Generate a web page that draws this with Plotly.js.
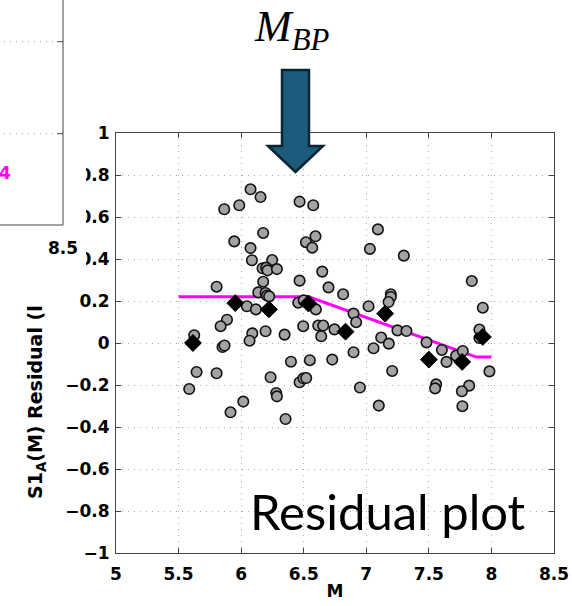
<!DOCTYPE html>
<html>
<head>
<meta charset="utf-8">
<script src="https://cdn.plot.ly/plotly-3.0.1.min.js"></script>
<style>html,body{margin:0;padding:0;background:#fff;}#chart{width:572px;height:606px;}</style>
</head>
<body>
<div id="chart"></div>
<script>
// ---- data ----
const circleM = [6.075,6.155,5.985,5.865,6.467,6.576,6.176,5.945,6.075,6.594,6.518,6.568,6.086,6.248,6.171,6.200,6.211,6.286,6.648,6.176,6.467,5.804,6.698,6.137,6.195,6.206,6.224,6.456,6.500,7.093,7.029,7.300,7.843,6.815,7.196,7.196,7.178,
  6.046,6.118,6.597,5.887,5.836,5.625,6.089,6.195,6.347,6.496,6.616,6.656,6.746,6.640,6.067,5.851,5.867,6.398,6.549,6.728,5.644,5.804,6.235,6.467,6.498,6.520,5.585,6.280,6.286,6.017,5.915,6.355,
  7.018,6.898,6.919,7.249,7.321,7.119,7.180,7.058,6.898,7.207,6.949,7.100,7.481,7.604,7.641,7.718,7.771,7.558,7.550,7.822,7.764,7.768,7.931,7.904,7.904,7.984];
const circleRes = [0.732,0.695,0.656,0.637,0.673,0.656,0.524,0.484,0.452,0.508,0.480,0.454,0.394,0.395,0.356,0.359,0.346,0.352,0.340,0.292,0.297,0.268,0.265,0.241,0.238,0.226,0.222,0.192,0.203,0.541,0.448,0.416,0.295,0.232,0.232,0.219,0.195,
  0.175,0.160,0.160,0.111,0.080,0.037,0.046,0.056,0.040,0.080,0.083,0.083,0.065,0.032,0.011,-0.019,-0.012,-0.089,-0.082,-0.079,-0.138,-0.144,-0.163,-0.187,-0.168,-0.167,-0.219,-0.238,-0.254,-0.279,-0.330,-0.362,
  0.175,0.140,0.099,0.060,0.057,0.026,-0.003,-0.025,-0.044,-0.133,-0.212,-0.298,0.003,-0.033,-0.090,-0.060,-0.038,-0.197,-0.216,-0.203,-0.230,-0.301,0.168,0.064,0.024,-0.135];
const binM = [5.615,5.953,6.222,6.538,6.834,7.151,7.500,7.766,7.931];
const binRes = [0.000,0.190,0.160,0.188,0.054,0.140,-0.079,-0.090,0.029];
const fitM = [5.5,6.54,7.88,8.0];
const fitRes = [0.22,0.22,-0.067,-0.067];
const xTicks = [5,5.5,6,6.5,7,7.5,8,8.5];
const yTicks = [-1,-0.8,-0.6,-0.4,-0.2,0,0.2,0.4,0.6,0.8,1];

// ---- layout helpers (pixel -> paper) ----
const L=116, T=133, W=438, H=420;
const px = x => (x-L)/W;
const py = y => (T+H-y)/H;

const tickFont = {family:'DejaVu Sans, sans-serif', size:17, weight:'bold', color:'#000'};

const traces = [
  {x: fitM, y: fitRes, type:'scatter', mode:'lines', line:{color:'#ff00ff', width:3}, hoverinfo:'skip'},
  {x: circleM, y: circleRes, type:'scatter', mode:'markers',
   marker:{symbol:'circle', size:10.5, color:'#a3a3a3', line:{color:'#111', width:1.6}}},
  {x: binM, y: binRes, type:'scatter', mode:'markers',
   marker:{symbol:'diamond', size:13, color:'#000', line:{color:'#000', width:1}}}
];

const arrowPath = [[282,70],[309,70],[309,146],[323,146],[295.5,172],[268,146],[282,146]]
  .map((p,i)=> (i?'L':'M')+px(p[0]).toFixed(4)+','+py(p[1]).toFixed(4)).join(' ')+' Z';

const shapes = [
  // neighbouring panel frame
  {type:'rect', xref:'paper', yref:'paper', x0:px(-5), x1:px(64), y0:py(268), y1:py(-5),
   fillcolor:'#fff', line:{width:0}, layer:'above'},
  {type:'line', xref:'paper', yref:'paper', x0:px(63), x1:px(63), y0:py(-2), y1:py(225), line:{color:'#444', width:1}, layer:'above'},
  {type:'line', xref:'paper', yref:'paper', x0:px(-2), x1:px(63), y0:py(225), y1:py(225), line:{color:'#444', width:1}, layer:'above'},
  {type:'line', xref:'paper', yref:'paper', x0:px(-2), x1:px(58), y0:py(41.7), y1:py(41.7), line:{color:'#999', width:1, dash:'1px,5px'}, layer:'above'},
  {type:'line', xref:'paper', yref:'paper', x0:px(-2), x1:px(58), y0:py(133.7), y1:py(133.7), line:{color:'#999', width:1, dash:'1px,5px'}, layer:'above'},
  {type:'line', xref:'paper', yref:'paper', x0:px(57), x1:px(63), y0:py(41.7), y1:py(41.7), line:{color:'#444', width:1}, layer:'above'},
  {type:'line', xref:'paper', yref:'paper', x0:px(57), x1:px(63), y0:py(133.7), y1:py(133.7), line:{color:'#444', width:1}, layer:'above'},
  // M_BP arrow
  {type:'path', xref:'paper', yref:'paper', path: arrowPath, fillcolor:'#1c5b7c', line:{color:'#0b2433', width:2.5}, layer:'above'}
];

const annotations = [
  // white cover where the neighbouring panel hides part of the tick labels
  {xref:'paper', yref:'paper', x:px(75), y:py(209), xanchor:'center', yanchor:'middle', showarrow:false,
   text:'&nbsp;', width:22, height:118, bgcolor:'#ffffff', borderwidth:0, borderpad:0, font:{size:10}},
  {xref:'paper', yref:'paper', x:px(291), y:py(0), xanchor:'center', yanchor:'top', showarrow:false,
   text:'<i>M</i><sub><i>BP</i></sub>', font:{family:'Liberation Serif, DejaVu Serif, serif', size:44, color:'#000'}},
  {xref:'paper', yref:'paper', x:px(388), y:py(511), xanchor:'center', yanchor:'middle', showarrow:false,
   text:'Residual plot', font:{family:'Lato, Noto Sans, sans-serif', size:49, color:'#000'}},
  {xref:'paper', yref:'paper', x:px(36), y:py(402), xanchor:'center', yanchor:'middle', showarrow:false, textangle:-90,
   text:'S1<sub>A</sub>(M) Residual (l', font:{family:'DejaVu Sans, sans-serif', size:19, weight:'bold', color:'#000'}},
  {xref:'paper', yref:'paper', x:px(5), y:py(173), xanchor:'center', yanchor:'middle', showarrow:false,
   text:'4', font:{family:'DejaVu Sans, sans-serif', size:17, weight:'bold', color:'#ff00ff'}},
  {xref:'paper', yref:'paper', x:px(63), y:py(248), xanchor:'center', yanchor:'middle', showarrow:false,
   text:'8.5', font:tickFont}
];

const axisCommon = {showline:true, linecolor:'#444', linewidth:1, mirror:'ticks', ticks:'inside', ticklen:5,
  tickcolor:'#444', showgrid:true, gridcolor:'#aaaaaa', griddash:'1px,5px', gridwidth:1, zeroline:false,
  tickfont:tickFont, fixedrange:true};

const layout = {
  width:572, height:606, paper_bgcolor:'#fff', plot_bgcolor:'#fff', showlegend:false,
  margin:{l:L, r:572-L-W, t:T, b:606-T-H},
  xaxis: Object.assign({}, axisCommon, {range:[5,8.5], tickvals:xTicks, ticktext:xTicks.map(String),
    ticklabelstandoff:6, title:{text:'M', font:tickFont, standoff:1}}),
  yaxis: Object.assign({}, axisCommon, {range:[-1,1], tickvals:yTicks, ticklabelstandoff:2,
    ticktext:yTicks.map(v=> (v<0?'\u2212':'')+String(Math.abs(v))), title:{text:''}}),
  shapes: shapes, annotations: annotations
};

Plotly.newPlot('chart', traces, layout, {displayModeBar:false, staticPlot:true});
</script>
</body>
</html>
